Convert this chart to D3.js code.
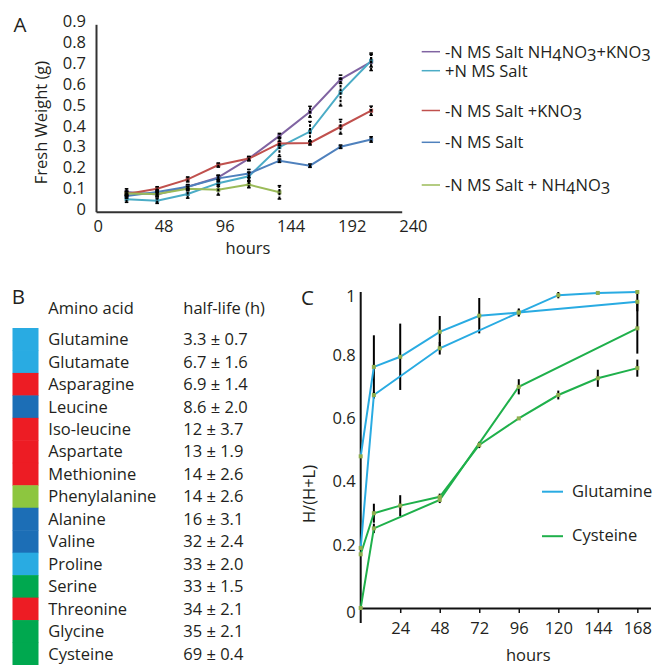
<!DOCTYPE html>
<html>
<head>
<meta charset="utf-8">
<script src="https://cdn.jsdelivr.net/npm/d3@7/dist/d3.min.js"></script>
<style>
  body { margin: 0; background: #fff; }
  svg { display: block; font-family: "Open Sans", sans-serif; }
  text { fill: #231f20; }
</style>
</head>
<body>
<div id="chart"></div>
<script>
// ---- panel A: fresh weight ----
var hoursA = [24, 48, 72, 96, 120, 144, 168, 192, 216];
var tickHoursA = [0, 48, 96, 144, 192, 240];
var tickWeightA = [0, 0.1, 0.2, 0.3, 0.4, 0.5, 0.6, 0.7, 0.8, 0.9];
var seriesNamesA = ["-N MS Salt NH4NO3+KNO3", "+N MS Salt", "-N MS Salt +KNO3", "-N MS Salt", "-N MS Salt + NH4NO3"];
var weightNH4KNO3 = [0.095, 0.083, 0.12, 0.165, 0.255, 0.364, 0.48, 0.636, 0.72];
var errNH4KNO3    = [0.015, 0.01, 0.01, 0.01, 0.01, 0.012, 0.026, 0.02, 0.042];
var weightPlusN   = [0.06, 0.053, 0.085, 0.137, 0.17, 0.31, 0.385, 0.573, 0.725];
var errPlusN      = [0.015, 0.013, 0.02, 0.015, 0.02, 0.045, 0.048, 0.065, 0.03];
var weightKNO3    = [0.085, 0.11, 0.155, 0.224, 0.255, 0.328, 0.33, 0.408, 0.485];
var errKNO3       = [0.01, 0.01, 0.012, 0.01, 0.01, 0.01, 0.01, 0.035, 0.022];
var weightMinusN  = [0.075, 0.095, 0.12, 0.16, 0.183, 0.245, 0.221, 0.312, 0.347];
var errMinusN     = [0.01, 0.01, 0.01, 0.015, 0.02, 0.008, 0.008, 0.008, 0.013];
var weightNH4NO3  = [0.088, 0.085, 0.11, 0.105, 0.13, 0.093];
var errNH4NO3     = [0.01, 0.01, 0.01, 0.025, 0.015, 0.032];

// ---- panel B: half-life table ----
var aminoAcids = ["Glutamine", "Glutamate", "Asparagine", "Leucine", "Iso-leucine", "Aspartate", "Methionine",
  "Phenylalanine", "Alanine", "Valine", "Proline", "Serine", "Threonine", "Glycine", "Cysteine"];
var halfLives = ["3.3 \u00b1 0.7", "6.7 \u00b1 1.6", "6.9 \u00b1 1.4", "8.6 \u00b1 2.0", "12 \u00b1 3.7", "13 \u00b1 1.9",
  "14 \u00b1 2.6", "14 \u00b1 2.6", "16 \u00b1 3.1", "32 \u00b1 2.4", "33 \u00b1 2.0", "33 \u00b1 1.5",
  "34 \u00b1 2.1", "35 \u00b1 2.1", "69 \u00b1 0.4"];
var aminoGroups = ["lightblue", "lightblue", "red", "darkblue", "red", "red", "red",
  "lightgreen", "darkblue", "darkblue", "lightblue", "green", "red", "green", "green"];

// ---- panel C: labelling H/(H+L) ----
var tickHoursC = [24, 48, 72, 96, 120, 144, 168];
var tickRatioC = [0, 0.2, 0.4, 0.6, 0.8, 1];
var glnAHours = [0, 8, 24, 48, 72, 96, 168];
var glnA      = [0.48, 0.763, 0.795, 0.874, 0.925, 0.935, 0.969];
var glnAErr   = [0, 0.1, 0.105, 0.05, 0.056, 0.013, 0.03];
var glnBHours = [0, 8, 48, 96, 120, 144, 168];
var glnB      = [0.19, 0.674, 0.822, 0.935, 0.99, 0.997, 1.0];
var glnBErr   = [0, 0.01, 0.02, 0.01, 0.01, 0.005, 0.005];
var cysAHours = [0, 8, 24, 48, 72, 96, 120, 144, 168];
var cysA      = [0.17, 0.3, 0.324, 0.352, 0.516, 0.6, 0.674, 0.727, 0.759];
var cysAErr   = [0, 0.03, 0.033, 0.01, 0.01, 0, 0.014, 0.027, 0.027];
var cysBHours = [0, 8, 48, 96, 168];
var cysB      = [0, 0.252, 0.342, 0.7, 0.885];
var cysBErr   = [0, 0.015, 0.01, 0.024, 0.08];
var legendC = ["Glutamine", "Cysteine"];

var fs = 16.5;

var svg = d3.select("#chart").append("svg")
  .attr("width", 653)
  .attr("height", 665);

function zip(hours, values, errs) {
  return values.map(function(v, i) { return {t: hours[i], v: v, e: errs[i]}; });
}

//write a label with chemical subscripts (digits dropped a little)
function formula(sel, label) {
  var low = false;
  label.split(/(\d+)/).forEach(function(part) {
    if (!part) return;
    var isNum = /^\d+$/.test(part);
    var ts = sel.append("tspan").text(part);
    if (isNum && !low) { ts.attr("dy", 3); low = true; }
    else if (!isNum && low) { ts.attr("dy", -3); low = false; }
  });
}

// ================= panel A =================
var colorsA = ["#8064a2", "#4bacc6", "#c0504d", "#4f81bd", "#9bbb59"];
var seriesA = [
  zip(hoursA, weightNH4KNO3, errNH4KNO3),
  zip(hoursA, weightPlusN, errPlusN),
  zip(hoursA, weightKNO3, errKNO3),
  zip(hoursA, weightMinusN, errMinusN),
  zip(hoursA, weightNH4NO3, errNH4NO3)
];

var xA = d3.scaleLinear().domain([0, 240]).range([96, 401.7]);
var yA = d3.scaleLinear().domain([0, 0.9]).range([211.7, 24.3]);

var gA = svg.append("g");

gA.append("g")
  .attr("transform", "translate(0," + yA(0) + ")")
  .call(d3.axisBottom(xA).tickValues(tickHoursA).tickSize(0).tickPadding(8.6))
  .call(function(g) {
    g.select(".domain").attr("stroke", "#333").attr("stroke-width", 2);
    g.selectAll("text").attr("font-size", fs).attr("font-family", "Open Sans")
      .attr("fill", "#231f20").attr("text-anchor", "start").attr("dx", -3);
  });

gA.append("g")
  .attr("transform", "translate(" + xA(0) + ",0)")
  .call(d3.axisLeft(yA).tickValues(tickWeightA).tickSize(0).tickPadding(10)
    .tickFormat(function(d) { return d === 0 ? "0" : d.toFixed(1); }))
  .call(function(g) {
    g.select(".domain").attr("stroke", "#333").attr("stroke-width", 2);
    g.selectAll("text").attr("font-size", fs).attr("font-family", "Open Sans")
      .attr("fill", "#231f20").attr("dy", "0.16em");
  });

var lineA = d3.line()
  .x(function(d) { return xA(d.t); })
  .y(function(d) { return yA(d.v); });

gA.selectAll(".lineA")
  .data(seriesA)
  .enter()
  .append("path")
  .attr("class", "lineA")
  .attr("d", lineA)
  .attr("fill", "none")
  .attr("stroke", function(d, i) { return colorsA[i]; })
  .attr("stroke-width", 2);

seriesA.forEach(function(s, i) {
  gA.selectAll(".mkA" + i)
    .data(s)
    .enter()
    .append("rect")
    .attr("x", function(d) { return xA(d.t) - 2; })
    .attr("y", function(d) { return yA(d.v) - 2; })
    .attr("width", 4)
    .attr("height", 4)
    .attr("fill", d3.color(colorsA[i]).darker(0.4));
});

//error bars with small caps
seriesA.forEach(function(s, i) {
  var eb = gA.selectAll(".ebA" + i)
    .data(s)
    .enter()
    .append("g");
  eb.append("line")
    .attr("x1", function(d) { return xA(d.t); })
    .attr("x2", function(d) { return xA(d.t); })
    .attr("y1", function(d) { return yA(d.v - d.e); })
    .attr("y2", function(d) { return yA(d.v + d.e); })
    .attr("stroke", "#000")
    .attr("stroke-width", 2)
    .attr("stroke-dasharray", "2.5,1.2");
  [-1, 1].forEach(function(sign) {
    eb.append("line")
      .attr("x1", function(d) { return xA(d.t) - 1.8; })
      .attr("x2", function(d) { return xA(d.t) + 1.8; })
      .attr("y1", function(d) { return yA(d.v + sign * d.e); })
      .attr("y2", function(d) { return yA(d.v + sign * d.e); })
      .attr("stroke", "#000")
      .attr("stroke-width", 1.5);
  });
});

gA.append("text")
  .attr("transform", "translate(41.7,122.5) rotate(-90)")
  .attr("text-anchor", "middle")
  .attr("dy", "0.35em")
  .attr("font-size", fs)
  .text("Fresh Weight (g)");

gA.append("text")
  .attr("x", 248).attr("y", 253.5)
  .attr("text-anchor", "middle")
  .attr("font-size", fs)
  .text("hours");

gA.append("text")
  .attr("x", 20).attr("y", 31.5)
  .attr("text-anchor", "middle")
  .attr("font-size", 20.5)
  .text("A");

//legend (uneven spacing as in the figure)
var legendYA = [57.7, 76.7, 116.5, 148.3, 191];
var legA = gA.selectAll(".legA")
  .data(seriesNamesA)
  .enter()
  .append("g")
  .attr("class", "legA")
  .attr("transform", function(d, i) { return "translate(0," + legendYA[i] + ")"; });

legA.append("line")
  .attr("x1", 421.7).attr("x2", 440)
  .attr("y1", -6).attr("y2", -6)
  .attr("stroke", function(d, i) { return colorsA[i]; })
  .attr("stroke-width", 1.5);

legA.append("text")
  .attr("x", 445)
  .attr("font-size", fs)
  .each(function(d) { formula(d3.select(this), d); });

// ================= panel B =================
var groupColor = {lightblue: "#29abe2", red: "#ed1c24", darkblue: "#1c6eb6", lightgreen: "#8dc63f", green: "#00a84f"};
var rowB = d3.scaleBand().domain(aminoAcids).range([328, 665]).paddingInner(0);

var gB = svg.append("g");

gB.append("text")
  .attr("x", 18.3).attr("y", 304)
  .attr("text-anchor", "middle")
  .attr("font-size", 20.5)
  .text("B");

gB.append("text").attr("x", 48.3).attr("y", 314).attr("font-size", fs).text("Amino acid");
gB.append("text").attr("x", 183.3).attr("y", 314).attr("font-size", fs).text("half-life (h)");

gB.selectAll(".box")
  .data(aminoAcids)
  .enter()
  .append("rect")
  .attr("class", "box")
  .attr("x", 12.5)
  .attr("y", function(d) { return rowB(d); })
  .attr("width", 26)
  .attr("height", rowB.bandwidth() + 0.5)
  .attr("fill", function(d, i) { return groupColor[aminoGroups[i]]; });

gB.selectAll(".aa")
  .data(aminoAcids)
  .enter()
  .append("text")
  .attr("x", 48.3)
  .attr("y", function(d) { return rowB(d) + rowB.bandwidth() / 2 + 5.9; })
  .attr("font-size", fs)
  .text(function(d) { return d; });

gB.selectAll(".hl")
  .data(halfLives)
  .enter()
  .append("text")
  .attr("x", 183.3)
  .attr("y", function(d, i) { return rowB(aminoAcids[i]) + rowB.bandwidth() / 2 + 5.9; })
  .attr("font-size", fs)
  .text(function(d) { return d; });

// ================= panel C =================
var glnColor = "#29abe2", cysColor = "#1fb04b", markColor = "#8fae4e";
var seriesC = [
  {c: glnColor, pts: zip(glnAHours, glnA, glnAErr)},
  {c: glnColor, pts: zip(glnBHours, glnB, glnBErr)},
  {c: cysColor, pts: zip(cysAHours, cysA, cysAErr)},
  {c: cysColor, pts: zip(cysBHours, cysB, cysBErr)}
];

var xC = d3.scaleLinear().domain([0, 176]).range([360.7, 650.5]);
var yC = d3.scaleLinear().domain([0, 1]).range([608, 292]);

var gC = svg.append("g");

gC.append("g")
  .attr("transform", "translate(0," + yC(0) + ")")
  .call(d3.axisBottom(xC).tickValues(tickHoursC).tickSizeInner(5).tickSizeOuter(0).tickPadding(9))
  .call(function(g) {
    g.select(".domain").attr("stroke", "#111").attr("stroke-width", 2);
    g.selectAll(".tick line").attr("stroke", "#111").attr("stroke-width", 1.5);
    g.selectAll("text").attr("font-size", fs).attr("font-family", "Open Sans").attr("fill", "#231f20");
  });

gC.append("g")
  .attr("transform", "translate(" + xC(0) + ",0)")
  .call(d3.axisLeft(yC).tickValues(tickRatioC).tickSize(0).tickPadding(5)
    .tickFormat(function(d) { return String(d); }))
  .call(function(g) {
    g.select(".domain").remove();
    g.selectAll("text").attr("font-size", fs).attr("font-family", "Open Sans").attr("fill", "#231f20")
      .attr("dy", function(d) { return (d === 0 || d === 1) ? "0.6em" : "0.32em"; });
  });

gC.append("line")
  .attr("x1", xC(0)).attr("x2", xC(0))
  .attr("y1", yC(1)).attr("y2", yC(0) + 15)
  .attr("stroke", "#111")
  .attr("stroke-width", 2);

//error bars first, then lines, then markers
seriesC.forEach(function(s, i) {
  gC.selectAll(".ebC" + i)
    .data(s.pts.filter(function(d) { return d.e > 0; }))
    .enter()
    .append("line")
    .attr("x1", function(d) { return xC(d.t); })
    .attr("x2", function(d) { return xC(d.t); })
    .attr("y1", function(d) { return yC(d.v - d.e); })
    .attr("y2", function(d) { return yC(d.v + d.e); })
    .attr("stroke", "#000")
    .attr("stroke-width", 2);
});

var lineC = d3.line()
  .x(function(d) { return xC(d.t); })
  .y(function(d) { return yC(d.v); });

gC.selectAll(".lineC")
  .data(seriesC)
  .enter()
  .append("path")
  .attr("d", function(d) { return lineC(d.pts); })
  .attr("fill", "none")
  .attr("stroke", function(d) { return d.c; })
  .attr("stroke-width", 2);

seriesC.forEach(function(s, i) {
  gC.selectAll(".mkC" + i)
    .data(s.pts)
    .enter()
    .append("rect")
    .attr("x", function(d) { return xC(d.t) - 2; })
    .attr("y", function(d) { return yC(d.v) - 2; })
    .attr("width", 4)
    .attr("height", 4)
    .attr("fill", markColor);
});

gC.append("text")
  .attr("transform", "translate(309,494) rotate(-90)")
  .attr("text-anchor", "middle")
  .attr("dy", "0.35em")
  .attr("font-size", fs)
  .text("H/(H+L)");

gC.append("text")
  .attr("x", 528.3).attr("y", 660.5)
  .attr("text-anchor", "middle")
  .attr("font-size", fs)
  .text("hours");

gC.append("text")
  .attr("x", 307.5).attr("y", 304.5)
  .attr("text-anchor", "middle")
  .attr("font-size", 20.5)
  .text("C");

var legC = gC.selectAll(".legC")
  .data(legendC)
  .enter()
  .append("g")
  .attr("transform", function(d, i) { return "translate(0," + (496.7 + i * 44.5) + ")"; });

legC.append("line")
  .attr("x1", 542).attr("x2", 563)
  .attr("y1", -5).attr("y2", -5)
  .attr("stroke", function(d, i) { return i === 0 ? glnColor : cysColor; })
  .attr("stroke-width", 2);

legC.append("text")
  .attr("x", 572)
  .attr("font-size", fs)
  .text(function(d) { return d; });
</script>
</body>
</html>
